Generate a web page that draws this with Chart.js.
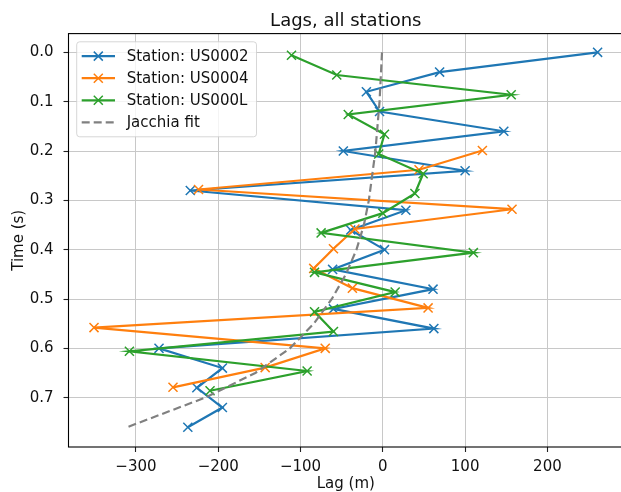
<!DOCTYPE html>
<html>
<head>
<meta charset="utf-8">
<title>Lags, all stations</title>
<script src="https://cdn.jsdelivr.net/npm/chart.js@4.4.1/dist/chart.umd.min.js"></script>
<style>
  html, body { margin:0; padding:0; background:#fff; overflow:hidden; }
  #wrap { width:631px; height:492px; }
</style>
</head>
<body>
<div id="wrap"><canvas id="lagChart" width="631" height="492"></canvas></div>
<script>
// --- Data ---
const blueTime  = [0.00,0.04,0.08,0.12,0.16,0.20,0.24,0.28,0.32,0.36,0.40,0.44,0.48,0.52,0.56,0.60,0.64,0.68,0.72,0.76];
const blueLag   = [261,69,-20,-4,147,-48,100,-234,28,-39,2,-61,61,-60,62,-272,-195,-226,-195,-237];

const orangeTime = [0.199,0.238,0.278,0.318,0.358,0.398,0.438,0.478,0.518,0.558,0.600,0.639,0.679];
const orangeLag  = [121,44,-224,157,-34,-60,-84,-37,55,-351,-70,-143,-255];

const greenTime = [0.006,0.046,0.086,0.126,0.166,0.206,0.246,0.286,0.326,0.366,0.406,0.446,0.486,0.526,0.566,0.606,0.646,0.686];
const greenLag  = [-111,-56,156,-42,2,-5,49,39,0,-75,110,-83,15,-83,-60,-308,-92,-210];

const fitTime = [0.00,0.10,0.20,0.30,0.35,0.40,0.45,0.50,0.55,0.60,0.65,0.70,0.76];
const fitLag  = [-1,-4,-9,-17,-23,-32,-45,-62,-84,-113,-155,-216,-311];

const xTicks = [-300,-200,-100,0,100,200];
const yTicks = [0.0,0.1,0.2,0.3,0.4,0.5,0.6,0.7];

const TITLE = 'Lags, all stations';
const FONT = '"DejaVu Sans", "Liberation Sans", sans-serif';

// --- Helpers ---
const pts = (xs, ys) => xs.map((x,i)=>({x, y: ys[i]}));
const fmtMinus = v => v < 0 ? '\u2212' + Math.abs(v) : String(v);

// axes title, frame and matplotlib-style legend box inside the axes
const frameLegend = {
  id: 'frameLegend',
  afterDatasetsDraw(chart){
    const {ctx, chartArea: a} = chart;
    ctx.save();
    ctx.strokeStyle = '#000'; ctx.lineWidth = 1.1;
    ctx.strokeRect(a.left, a.top, a.right - a.left, a.bottom - a.top);

    ctx.fillStyle = '#111'; ctx.textAlign = 'center'; ctx.textBaseline = 'alphabetic';
    ctx.font = '18px ' + FONT;
    ctx.fillText(TITLE, (a.left + a.right)/2, 26);

    ctx.font = '15px ' + FONT;
    const items = chart.data.datasets;
    const tw = Math.max(...items.map(d=>ctx.measureText(d.label).width));
    const x0 = a.left + 8.2, y0 = a.top + 8.2, w = 50 + tw + 8, h = 95, r = 3;
    ctx.beginPath();
    ctx.moveTo(x0+r, y0); ctx.lineTo(x0+w-r, y0); ctx.arcTo(x0+w, y0, x0+w, y0+r, r);
    ctx.lineTo(x0+w, y0+h-r); ctx.arcTo(x0+w, y0+h, x0+w-r, y0+h, r);
    ctx.lineTo(x0+r, y0+h); ctx.arcTo(x0, y0+h, x0, y0+h-r, r);
    ctx.lineTo(x0, y0+r); ctx.arcTo(x0, y0, x0+r, y0, r);
    ctx.closePath();
    ctx.fillStyle = 'rgba(255,255,255,0.8)'; ctx.fill();
    ctx.strokeStyle = 'rgba(204,204,204,0.8)'; ctx.lineWidth = 1; ctx.stroke();

    items.forEach((d,i)=>{
      const y = y0 + 14.3 + i*22.1;
      ctx.strokeStyle = d.borderColor; ctx.lineWidth = d.borderWidth;
      ctx.setLineDash(d.borderDash || []);
      ctx.beginPath(); ctx.moveTo(x0+5, y); ctx.lineTo(x0+38.3, y); ctx.stroke();
      ctx.setLineDash([]);
      if(d.pointRadius > 0){
        const cx = x0 + 21.6, s = 4.5;
        ctx.lineWidth = d.pointBorderWidth;
        ctx.beginPath();
        ctx.moveTo(cx-s, y-s); ctx.lineTo(cx+s, y+s);
        ctx.moveTo(cx-s, y+s); ctx.lineTo(cx+s, y-s);
        ctx.stroke();
      }
      ctx.fillStyle = '#111'; ctx.textBaseline = 'middle'; ctx.textAlign = 'left';
      ctx.fillText(d.label, x0 + 50, y + 1);
    });
    ctx.restore();
  }
};

function station(label, color, xs, ys, order){
  return {
    label, data: pts(xs, ys), order,
    showLine: true, borderColor: color, backgroundColor: color,
    borderWidth: 2.2, pointStyle: 'crossRot', pointRadius: 6.4,
    pointBorderWidth: 1.5, pointBorderColor: color, pointHoverRadius: 6.4
  };
}

const datasets = [
  station('Station: US0002', '#1f77b4', blueLag, blueTime, 4),
  station('Station: US0004', '#ff7f0e', orangeLag, orangeTime, 3),
  station('Station: US000L', '#2ca02c', greenLag, greenTime, 2),
  {
    label: 'Jacchia fit', data: pts(fitLag, fitTime), order: 1,
    showLine: true, borderColor: '#808080', backgroundColor: '#808080',
    borderWidth: 2.2, borderDash: [8, 4], pointRadius: 0, pointBorderWidth: 0
  }
];

const gridOpts = {
  color: '#c8c8c8', lineWidth: 1,
  drawTicks: true, tickLength: 5, tickColor: '#222', tickWidth: 1.1
};

new Chart(document.getElementById('lagChart').getContext('2d'), {
  type: 'scatter',
  data: { datasets },
  plugins: [frameLegend],
  options: {
    responsive: false,
    animation: false,
    layout: { padding: { left: 0, right: 2, top: 33.6, bottom: 0 } },
    plugins: {
      legend: { display: false },
      tooltip: { enabled: false },
      title: { display: false }
    },
    scales: {
      x: {
        type: 'linear', min: -382, max: 292,
        grid: gridOpts, border: { display: false },
        afterBuildTicks: s => { s.ticks = xTicks.map(v=>({value:v})); },
        afterFit: s => { s.height = 45; s.paddingLeft = 0; s.paddingRight = 0; },
        ticks: {
          autoSkip: false, maxRotation: 0, padding: 6, color: '#111',
          font: { family: FONT, size: 15 },
          callback: v => fmtMinus(v)
        },
        title: {
          display: true, text: 'Lag (m)', color: '#111',
          font: { family: FONT, size: 15, lineHeight: 1 },
          padding: { top: 0, bottom: 0 }
        }
      },
      y: {
        type: 'linear', reverse: true, min: -0.038, max: 0.8,
        grid: gridOpts, border: { display: false },
        afterBuildTicks: s => { s.ticks = yTicks.map(v=>({value:v})); },
        afterFit: s => { s.width = 68.5; s.paddingTop = 0; s.paddingBottom = 0; },
        ticks: {
          autoSkip: false, padding: 10, color: '#111',
          font: { family: FONT, size: 15 },
          callback: v => Number(v).toFixed(1)
        },
        title: {
          display: true, text: 'Time (s)', color: '#111',
          font: { family: FONT, size: 15, lineHeight: 1.2 },
          padding: { top: 10, bottom: 0 }
        }
      }
    }
  }
});
</script>
</body>
</html>
